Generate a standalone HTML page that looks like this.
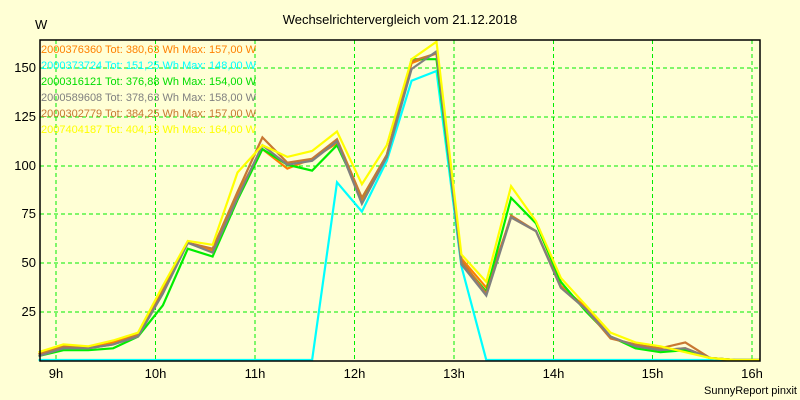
<!DOCTYPE html>
<html><head><meta charset="utf-8"><style>
html,body{margin:0;padding:0;background:#ffffd5;}
svg{display:block;font-family:"Liberation Sans",sans-serif;}
</style></head><body>
<svg id="s" width="800" height="400" xmlns="http://www.w3.org/2000/svg">
<rect width="800" height="400" fill="#ffffd5"/>
<g stroke="#00ee00" stroke-width="1" stroke-dasharray="4,3" fill="none">
<line x1="56" y1="40" x2="56" y2="361"/><line x1="155.5" y1="40" x2="155.5" y2="361"/>
<line x1="255" y1="40" x2="255" y2="361"/><line x1="354.5" y1="40" x2="354.5" y2="361"/>
<line x1="454" y1="40" x2="454" y2="361"/><line x1="553.5" y1="40" x2="553.5" y2="361"/>
<line x1="652.5" y1="40" x2="652.5" y2="361"/><line x1="752" y1="40" x2="752" y2="361"/>
<line x1="40" y1="68" x2="760" y2="68"/><line x1="40" y1="117" x2="760" y2="117"/>
<line x1="40" y1="166" x2="760" y2="166"/><line x1="40" y1="214" x2="760" y2="214"/>
<line x1="40" y1="263" x2="760" y2="263"/><line x1="40" y1="312" x2="760" y2="312"/>
</g>
<g font-size="12" fill="#000">
<text x="400" y="24" text-anchor="middle" font-size="13">Wechselrichtervergleich vom 21.12.2018</text>
<text x="35" y="29" font-size="13">W</text>
<g text-anchor="end" font-size="13"><text x="36" y="72">150</text><text x="36" y="121">125</text><text x="36" y="170">100</text><text x="36" y="218">75</text><text x="36" y="267">50</text><text x="36" y="316">25</text></g>
<g text-anchor="middle" font-size="13"><text x="56" y="378">9h</text><text x="155.5" y="378">10h</text><text x="255" y="378">11h</text><text x="354.5" y="378">12h</text><text x="454" y="378">13h</text><text x="553.5" y="378">14h</text><text x="652.5" y="378">15h</text><text x="752" y="378">16h</text></g>
<text x="797" y="394" text-anchor="end" font-size="11">SunnyReport pinxit</text>
</g>
<g id="lines" fill="none" stroke-width="2.2" stroke-linejoin="miter"></g>
<g font-size="11">
<text x="41" y="53" fill="#ff8000">2000376360 Tot: 380,63 Wh Max: 157,00 W</text>
<text x="41" y="69" fill="#00ffff">2000373724 Tot: 151,25 Wh Max: 148,00 W</text>
<text x="41" y="85" fill="#00dd00">2000316121 Tot: 376,88 Wh Max: 154,00 W</text>
<text x="41" y="101" fill="#808080">2000589608 Tot: 378,63 Wh Max: 158,00 W</text>
<text x="41" y="117" fill="#c87832">2000302779 Tot: 384,25 Wh Max: 157,00 W</text>
<text x="41" y="133" fill="#ffff00">2007404187 Tot: 404,13 Wh Max: 164,00 W</text>
</g>
<rect x="40" y="40" width="720" height="321" fill="none" stroke="#000" stroke-width="1.5"/>
</svg>
<script>
var S=[
["#ff8000",[3,7,6,9,13,35,60,56,85,108,98,103,111,82,105,152,157,52,37,73,66,38,27,12,7,5,6,1,0,0]],
["#00ffff",[0,0,0,0,0,0,0,0,0,0,0,0,91,76,102,143,148,48,0,0,0,0,0,0,0,0,0,0,0,0]],
["#00ee00",[2,5,5,6,12,28,57,53,82,108,100,97,110,83,104,154,154,50,35,83,70,40,25,12,6,4,5,1,0,0]],
["#c87832",[3,7,6,8,13,36,60,57,86,114,101,103,113,83,105,153,157,51,34,74,66,37,26,11,8,6,9,1,0,0]],
["#808080",[2,6,6,8,12,34,60,55,83,110,100,102,112,80,104,149,158,49,33,73,66,37,26,12,7,5,6,1,0,0]],
["#ffff00",[4,8,7,10,14,38,61,59,96,110,104,107,117,90,110,154,163,54,40,89,71,42,28,14,9,7,4,1,0,0]]];
var g=document.getElementById("lines"),h="";
S.forEach(function(s){var p=s[1].map(function(v,i){var x=Math.min(760,38.5+24.875*i);return x.toFixed(1)+","+(360-v*1.953).toFixed(1);}).join(" ");
h+='<polyline stroke="'+s[0]+'" points="'+p+'"/>';});
g.innerHTML=h;
</script>
</body></html>
